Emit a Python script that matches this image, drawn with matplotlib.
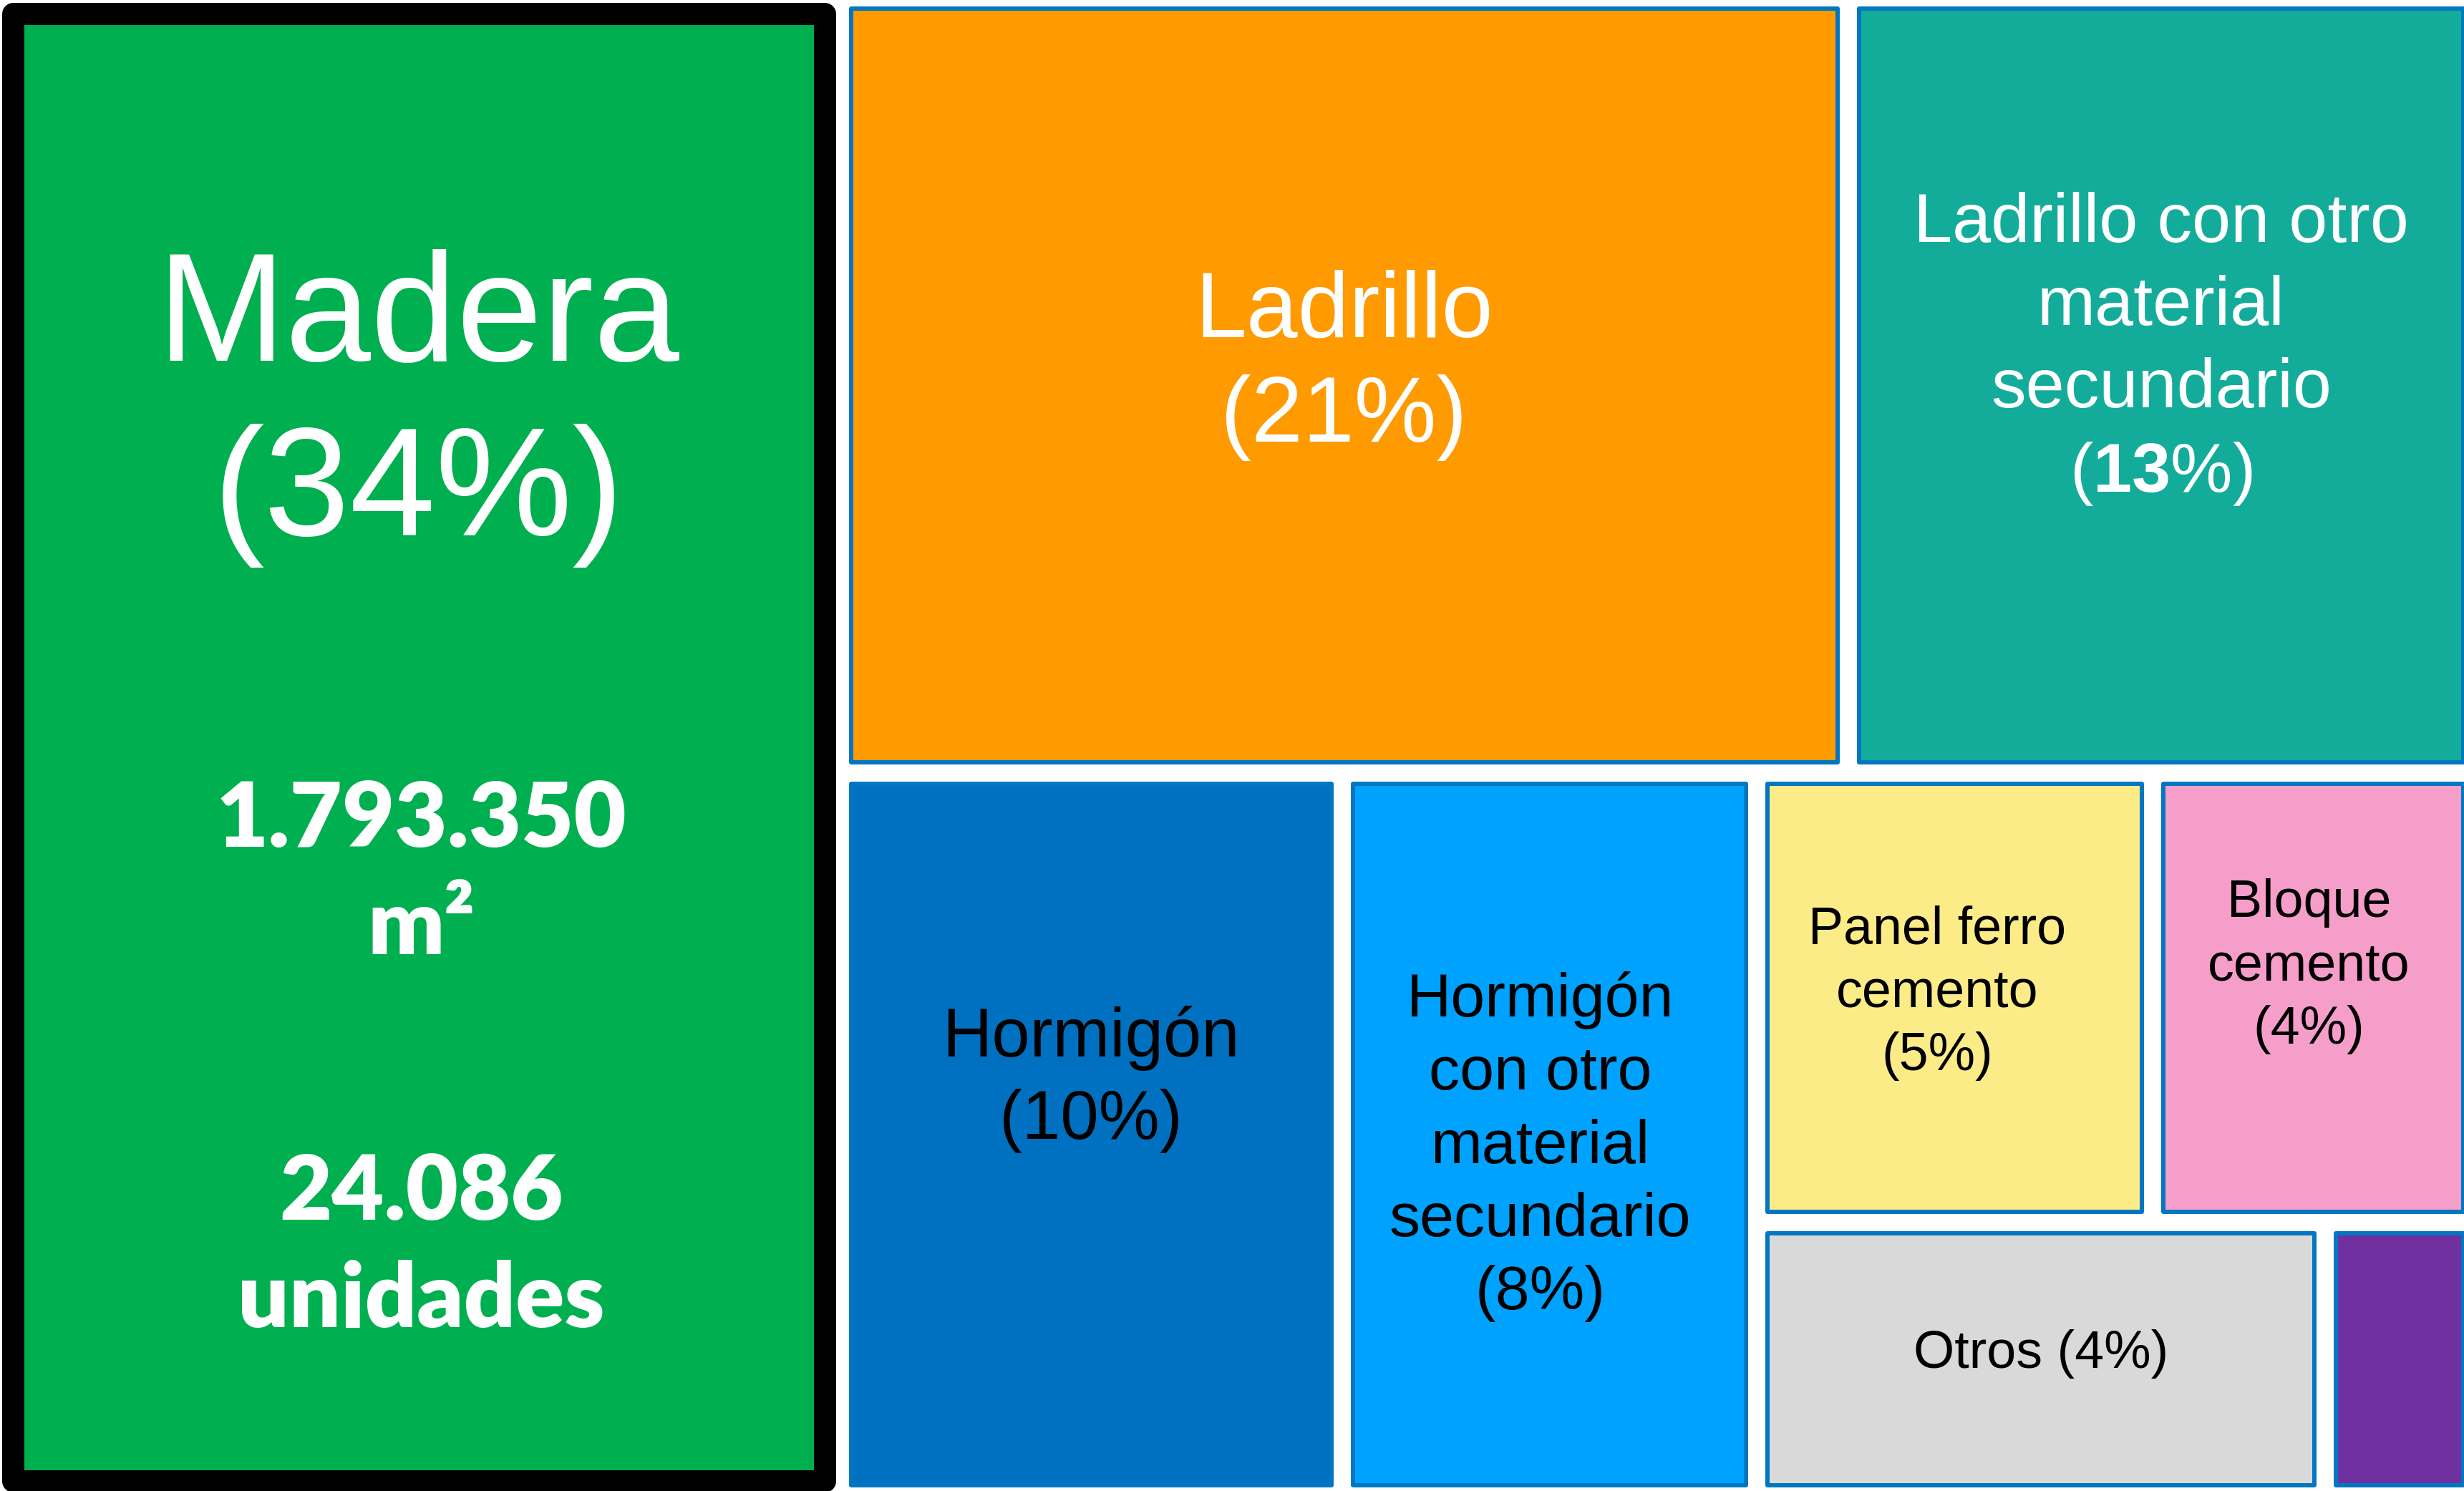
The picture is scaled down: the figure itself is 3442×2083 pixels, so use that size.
import matplotlib
matplotlib.use("Agg")
import matplotlib.pyplot as plt
from matplotlib.patches import Rectangle

# ---------------- data ----------------
categories = ["Madera", "Ladrillo", "Ladrillo con otro material secundario", "Hormigón",
              "Hormigón con otro material secundario", "Panel ferro cemento",
              "Bloque cemento", "Otros", ""]
# share of each material (%); labels show the rounded value
share = [34.1, 21.1, 13.1, 9.8, 8.1, 4.8, 3.9, 4.2, 1.1]
# wrapped display names (as printed in the boxes)
display_names = ["Madera", "Ladrillo", "Ladrillo con otro\nmaterial\nsecundario", "Hormigón",
                 "Hormigón\ncon otro\nmaterial\nsecundario", "Panel ferro\ncemento",
                 "Bloque\ncemento", "Otros", ""]
pct_separator = ["\n", "\n", "\n", "\n", "\n", "\n", "\n", " ", ""]
madera_area_m2 = "1.793.350"
madera_units = "24.086"

# ---------------- style ----------------
colors = ["#00AF50", "#FF9A00", "#13AC9B", "#0070C0", "#00A2FF",
          "#FBEC88", "#F69ECA", "#D9D9D9", "#7030A0"]
text_colors = ["white", "white", "white", "black", "black", "black", "black", "black", "black"]
font_sizes = [155, 93, 70, 69, 62, 53, 53, 53, 53]
text_fx = [0.5, 0.5, 0.5, 0.5, 0.478, 0.456, 0.487, 0.5, 0.5]
text_fy = [0.274, 0.474, 0.454, 0.424, 0.517, 0.49, 0.43, 0.48, 0.5]
edge_blue = "#0077C0"

# treemap structure: 'h' = split horizontally, 'v' = split vertically
structure = ("h", [0, ("v", [("h", [1, 2]),
                             ("h", [3, 4, ("v", [("h", [5, 6]), ("h", [7, 8])])])])])


def total(node):
    if isinstance(node, int):
        return share[node]
    return sum(total(k) for k in node[1])


def place(node, x, y, w, h, out):
    if isinstance(node, int):
        out[node] = (x, y, w, h)
        return
    d, kids = node
    t = total(node)
    for k in kids:
        f = total(k) / t
        if d == "h":
            place(k, x, y, w * f, h, out)
            x += w * f
        else:
            place(k, x, y, w, h * f, out)
            y += h * f


W, H, DPI = 3442, 2083, 100
fig = plt.figure(figsize=(W / DPI, H / DPI), dpi=DPI)
ax = fig.add_axes([0, 0, 1, 1])
ax.set_xlim(0, W)
ax.set_ylim(H, 0)
ax.axis("off")

plt.rcParams["mathtext.fontset"] = "custom"
plt.rcParams["mathtext.rm"] = "Liberation Sans"
plt.rcParams["mathtext.bf"] = "Liberation Sans:bold"

cells = {}
place(structure, -4, -3, 3460, 2093, cells)

px2pt = 72 / DPI
for i in range(len(share)):
    x, y, w, h = cells[i]
    if i == 0:
        pad, lw, ec = 21.5, 31, "black"
    else:
        pad, lw, ec = 15, 6, edge_blue
    r = Rectangle((x + pad, y + pad), w - 2 * pad, h - 2 * pad, facecolor=colors[i],
                  edgecolor=ec, linewidth=lw * px2pt, joinstyle="round", zorder=2)
    ax.add_patch(r)
    if display_names[i] == "":
        continue
    p = int(round(share[i]))
    pct = f"({p}%)"
    if i == 2:
        pct = r"($\mathbf{" + str(p) + r"}$%)"
    label = display_names[i] + pct_separator[i] + pct
    ls = 1.28 if i in (0, 1) else 1.36
    ax.text(x + w * text_fx[i], y + h * text_fy[i], label, ha="center", va="center",
            fontsize=font_sizes[i], color=text_colors[i], family="Liberation Sans",
            linespacing=ls, zorder=3)

# extra info in the Madera box
x, y, w, h = cells[0]
ax.text(x + w * 0.503, y + h * 0.585, madera_area_m2 + "\nm²", ha="center", va="center",
        fontsize=91, fontweight="heavy", color="white", family=["Lato", "DejaVu Sans"],
        linespacing=1.38, zorder=3)
ax.text(x + w * 0.503, y + h * 0.834, madera_units + "\nunidades", ha="center", va="center",
        fontsize=91, fontweight="heavy", color="white", family=["Lato", "DejaVu Sans"],
        linespacing=1.38, zorder=3)

fig.savefig("out.png", dpi=DPI, facecolor="white")
